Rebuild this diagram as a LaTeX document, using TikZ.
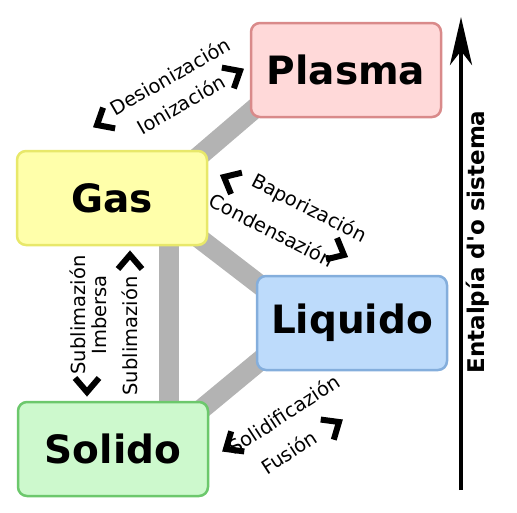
\documentclass[tikz,border=0pt]{standalone}
\usepackage{fontspec}
\setmainfont{DejaVu Sans}[Ligatures=TeXOff]
\usepackage{tikz}
\usetikzlibrary{arrows.meta, backgrounds}
\usepackage{xcolor}
\definecolor{plasmafill}{HTML}{FFD9D9}
\definecolor{plasmaline}{HTML}{D98A8A}
\definecolor{gasfill}{HTML}{FFFFAA}
\definecolor{gasline}{HTML}{E8E86A}
\definecolor{liqfill}{HTML}{BDDBFB}
\definecolor{liqline}{HTML}{84AEDC}
\definecolor{solfill}{HTML}{CDF9CD}
\definecolor{solline}{HTML}{6CC86C}
\definecolor{linkgray}{HTML}{B3B3B3}
\newcommand{\chev}[2]{\draw[chev, shift={(#1)}, rotate=#2] (-14,12) -- (0,0) -- (-14,-12);}

\begin{document}
\begin{tikzpicture}[x=1pt, y=-1pt,
  phase/.style={draw, rounded corners=9pt, line width=2.5pt, minimum width=190pt, minimum height=94pt, font=\fontsize{39}{40}\selectfont\bfseries},
  lbl/.style={font=\fontsize{19.5}{21}\selectfont},
  link/.style={draw=linkgray, line width=20pt, shorten <=-30pt, shorten >=-30pt},
  chev/.style={line width=6pt, miter limit=10}]
\useasboundingbox (0,0) rectangle (517,512);

% Fases
\node[phase, fill=plasmafill, draw=plasmaline] (plasma) at (346,70) {Plasma};
\node[phase, fill=gasfill, draw=gasline] (gas) at (112,198) {Gas};
\node[phase, fill=liqfill, draw=liqline] (liquido) at (352,323) {Liquido};
\node[phase, fill=solfill, draw=solline] (solido) at (113,449) {Solido};

% Unions
\begin{scope}[on background layer]
\draw[link] ([yshift=1.5pt]gas.north east) -- ([yshift=5.5pt]plasma.south west);
\draw[link] ([yshift=1pt]gas.south east) -- ([yshift=-7pt]liquido.north west);
\draw[link] ([yshift=7pt]liquido.south west) -- ([yshift=-2pt]solido.north east);
\draw[link] ([xshift=57pt]gas.center) -- ([xshift=56pt]solido.center);
\end{scope}

% Cambeos de fase
\node[lbl, rotate=30] (desion) at (170,76) {Desionización};
\node[lbl, rotate=30] (ion) at (181,104) {Ionización};
\chev{97,125}{210}
\chev{240,71}{30}

\node[lbl, rotate=-27] (bapor) at (309,209) {Baporización};
\node[lbl, rotate=-27] (conden) at (272,230) {Condensazión};
\chev{224,177}{153}
\chev{344,255}{-27}

\node[lbl, rotate=90, align=center] (subinv) at (88,315) {Sublimazión\\Imbersa};
\node[lbl, rotate=90] (sub) at (130,336) {Sublimazión};
\chev{130,255}{90}
\chev{87,392}{270}

\node[lbl, rotate=33] (solid) at (284,414) {Solidificazión};
\node[lbl, rotate=33] (fusion) at (289,452) {Fusión};
\chev{226,449}{213}
\chev{339,422}{33}

% Entalpia
\coordinate (low) at (461,490);
\coordinate (high) at (461,17);
\draw[line width=4.5pt, -{Stealth[length=48pt, width=22pt, inset=14pt]}] (low) -- (high);
\node[font=\fontsize{23}{24}\selectfont\bfseries, rotate=90] (ental) at (478,242) {Entalpía d'o sistema};
\end{tikzpicture}
\end{document}
